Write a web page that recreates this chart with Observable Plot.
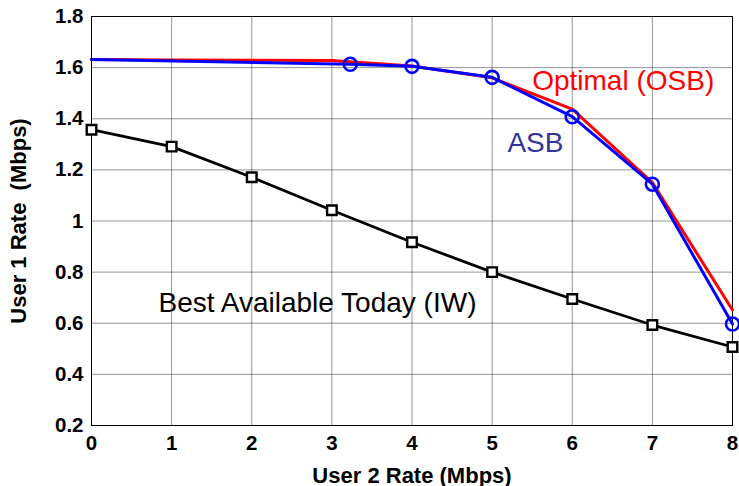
<!DOCTYPE html>
<html>
<head>
<meta charset="utf-8">
<script src="https://cdn.jsdelivr.net/npm/d3@7"></script>
<script src="https://cdn.jsdelivr.net/npm/@observablehq/plot@0.6"></script>
<style>
  html, body { margin: 0; padding: 0; background: #fff; }
  #chart svg { display: block; }
  #chart text { white-space: pre; }
</style>
</head>
<body>
<div id="chart"></div>
<script>
// User 2 rate (Mbps) on x, User 1 rate (Mbps) on y
const xTicks = [0, 1, 2, 3, 4, 5, 6, 7, 8];
const yTicks = [0.2, 0.4, 0.6, 0.8, 1, 1.2, 1.4, 1.6, 1.8];

// Optimal spectrum balancing (OSB)
const osbX = [0, 1, 2, 3, 4, 5, 6, 7, 8];
const osbY = [1.632, 1.630, 1.629, 1.628, 1.606, 1.560, 1.438, 1.150, 0.652];

// Autonomous spectrum balancing (ASB)
const asbX = [0, 3.23, 4, 5, 6, 7, 8];
const asbY = [1.632, 1.613, 1.605, 1.562, 1.408, 1.144, 0.597];
const asbMarked = [false, true, true, true, true, true, true];

// Iterative water-filling (IW)
const iwX = [0, 1, 2, 3, 4, 5, 6, 7, 8];
const iwY = [1.357, 1.291, 1.171, 1.042, 0.917, 0.800, 0.695, 0.593, 0.507];

const osb = osbX.map((x, i) => ({x, y: osbY[i]}));
const asb = asbX.map((x, i) => ({x, y: asbY[i], marked: asbMarked[i]}));
const iw = iwX.map((x, i) => ({x, y: iwY[i]}));

const osbMarkers = osb.filter(d => !asb.some(a => a.marked && a.x === d.x));

const font = "'Liberation Sans', Arial, Helvetica, sans-serif";

const chart = Plot.plot({
  width: 739,
  height: 486,
  marginLeft: 91,
  marginRight: 7,
  marginTop: 16,
  marginBottom: 61,
  style: {fontFamily: font, background: "#fff", color: "#000"},
  x: {domain: [0, 8]},
  y: {domain: [0.2, 1.8]},
  marks: [
    Plot.gridX(xTicks, {stroke: "#000", strokeOpacity: 0.42, strokeWidth: 1}),
    Plot.gridY(yTicks, {stroke: "#000", strokeOpacity: 0.42, strokeWidth: 1}),
    Plot.frame({stroke: "#000", strokeWidth: 1}),
    Plot.axisX(xTicks, {
      tickSize: 0, tickPadding: 10, fontSize: 20.5, fontWeight: "bold",
      tickFormat: d => String(d),
      label: "User 2 Rate (Mbps)", labelAnchor: "center", labelArrow: "none", labelOffset: 57
    }),
    Plot.axisY(yTicks, {
      tickSize: 0, tickPadding: 8, fontSize: 20.5, fontWeight: "bold",
      tickFormat: d => String(d),
      label: "User 1 Rate  (Mbps)", labelAnchor: "center", labelArrow: "none", labelOffset: 81.5
    }),
    // IW curve
    Plot.line(iw, {x: "x", y: "y", stroke: "#000", strokeWidth: 2.8}),
    Plot.dot(iw, {x: "x", y: "y", symbol: "square", r: 5.4, stroke: "#000", strokeWidth: 2.4, fill: "#fff"}),
    // OSB curve
    Plot.line(osb, {x: "x", y: "y", stroke: "#ff0000", strokeWidth: 3}),
    Plot.dot(osbMarkers, {x: "x", y: "y", symbol: "plus", r: 5, fill: "#ff0000", stroke: "none"}),
    // ASB curve
    Plot.line(asb, {x: "x", y: "y", stroke: "#0000ff", strokeWidth: 3}),
    Plot.dot(asb.filter(d => d.marked), {x: "x", y: "y", r: 6.5, stroke: "#0000ff", strokeWidth: 2.6, fill: "none"}),
    // Curve labels
    Plot.text(["Optimal (OSB)"], {x: 6.636, y: 1.547, text: d => d, fill: "#ff0000", fontSize: 28}),
    Plot.text(["ASB"], {x: 5.54, y: 1.306, text: d => d, fill: "#333399", fontSize: 28}),
    Plot.text(["Best Available Today (IW)"], {x: 2.82, y: 0.681, text: d => d, fill: "#000", fontSize: 28})
  ]
});

chart.querySelectorAll("[aria-label='x-axis label'] text, [aria-label='y-axis label'] text").forEach(t => {
  t.setAttribute("font-size", "22");
  t.setAttribute("font-weight", "bold");
});

document.getElementById("chart").appendChild(chart);
</script>
</body>
</html>
